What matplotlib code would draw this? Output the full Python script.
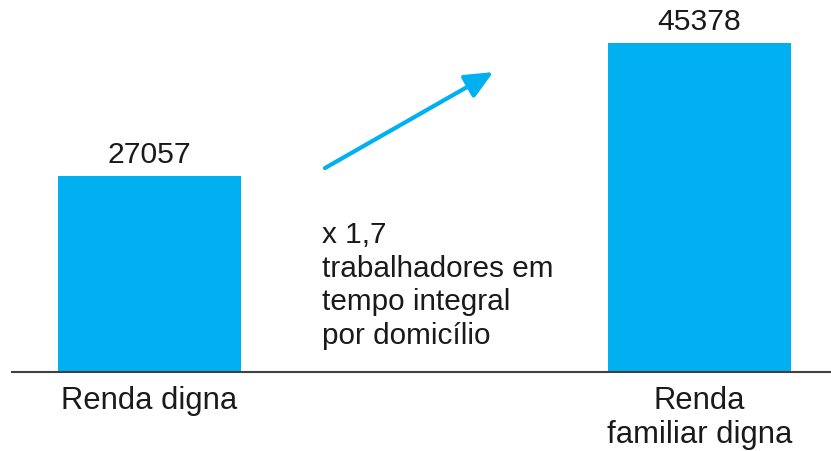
import matplotlib.pyplot as plt

plt.rcParams["font.family"] = ["Liberation Sans", "DejaVu Sans"]

categories = ["Renda digna", "Renda\nfamiliar digna"]
values = [27057, 45378]
note = "x 1,7\ntrabalhadores em\ntempo integral\npor domicílio"

bar_color = "#00B0F0"

fig = plt.figure(figsize=(8.31, 4.51), dpi=100)
ax = fig.add_axes([12 / 831, 79 / 451, 819 / 831, 372 / 451])

x = [0, 1]
bars = ax.bar(x, values, width=0.333, color=bar_color)

ax.set_xlim(-0.25, 1.239)
ax.set_ylim(0, 51350)

for b, v in zip(bars, values):
    ax.text(b.get_x() + b.get_width() / 2, v + 1000, str(v),
            ha="center", va="bottom", fontsize=21.7, color="#1a1a1a")

ax.set_xticks(x)
ax.set_xticklabels(categories, fontsize=22.3, color="#1a1a1a", linespacing=1.16)
ax.tick_params(axis="x", length=0, pad=10)
ax.set_yticks([])

for side in ["top", "right", "left"]:
    ax.spines[side].set_visible(False)
ax.spines["bottom"].set_color("#404040")
ax.spines["bottom"].set_linewidth(1.5)

# arrow and note between the bars
ax.annotate("", xy=(0.625, 41400), xytext=(0.319, 28152),
            arrowprops=dict(arrowstyle="-|>,head_length=1.0,head_width=0.45",
                            mutation_scale=17, color=bar_color, lw=3,
                            shrinkA=0, shrinkB=0))

ax.text(0.313, 20900, note, ha="left", va="top", fontsize=21.4,
        color="#1a1a1a", linespacing=1.27)

fig.savefig("out.png", dpi=100)
